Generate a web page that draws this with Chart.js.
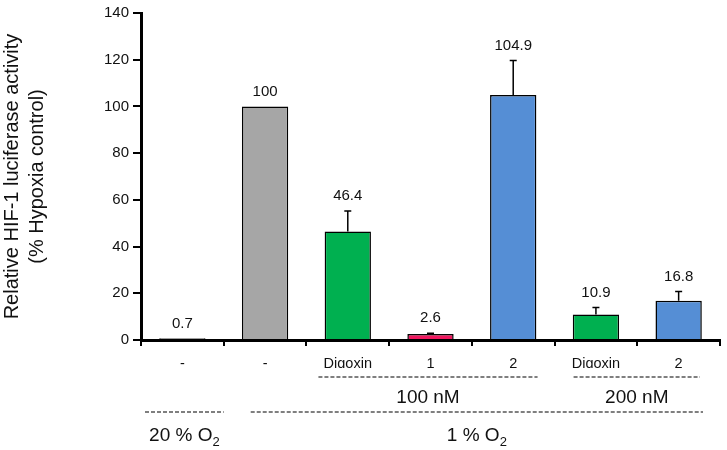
<!DOCTYPE html>
<html lang="en">
<head>
    <meta charset="UTF-8">
    <title>HIF-1 luciferase activity</title>
    <style>
        body { margin: 0; background: #fff; }
        #wrap { width: 727px; height: 450px; }
    </style>
</head>
<body>
    <div id="wrap"><canvas id="chart"></canvas></div>

    <script src="https://cdn.jsdelivr.net/npm/chart.js"></script>
    <script>
        // data
        const categories = ['-', '-', 'Digoxin', '1', '2', 'Digoxin', '2'];
        const values = [0.7, 100, 46.4, 2.6, 104.9, 10.9, 16.8];
        const errors = [0, 0, 8.8, 0.3, 14.8, 3.0, 4.0];
        const valueLabels = ['0.7', '100', '46.4', '2.6', '104.9', '10.9', '16.8'];
        const barColors = ['#a6a6a6', '#a6a6a6', '#00b050', '#f0185f', '#558ed5', '#00b050', '#558ed5'];
        const yTicks = [0, 20, 40, 60, 80, 100, 120, 140];

        // group rows under the axis: [first category, last category, text, subscript]
        const doseGroups = [[2, 4, '100 nM', ''], [5, 6, '200 nM', '']];
        const oxygenGroups = [[0, 0, '20 % O', '2'], [1, 6, '1 % O', '2']];

        const FONT = 'Arial, "Liberation Sans", sans-serif';

        // error bars + value labels
        const errorPlugin = {
            id: 'errorBars',
            afterDatasetsDraw(chart) {
                const ctx = chart.ctx;
                const x = chart.scales.x, y = chart.scales.y;
                ctx.save();
                ctx.strokeStyle = '#000';
                ctx.lineWidth = 1.5;
                values.forEach((v, i) => {
                    const cx = x.getPixelForValue(i);
                    const top = y.getPixelForValue(v + errors[i]);
                    if (errors[i] > 0) {
                        ctx.beginPath();
                        ctx.moveTo(cx, y.getPixelForValue(v));
                        ctx.lineTo(cx, top);
                        ctx.moveTo(cx - 3.5, top);
                        ctx.lineTo(cx + 3.5, top);
                        ctx.stroke();
                    }
                    ctx.fillStyle = '#111';
                    ctx.font = '15px ' + FONT;
                    ctx.textAlign = 'center';
                    ctx.textBaseline = 'middle';
                    ctx.fillText(valueLabels[i], cx, top - 15);
                });
                ctx.restore();
            }
        };

        // dashed group lines and labels under the x axis
        const groupPlugin = {
            id: 'groups',
            afterDraw(chart) {
                const ctx = chart.ctx;
                const x = chart.scales.x;
                const half = (x.getPixelForValue(1) - x.getPixelForValue(0)) / 2;
                const base = chart.chartArea.bottom;

                function row(groups, lineY, textY, insetL, insetR) {
                    groups.forEach(g => {
                        const l = x.getPixelForValue(g[0]) - half + insetL;
                        const r = x.getPixelForValue(g[1]) + half - insetR;
                        ctx.save();
                        ctx.strokeStyle = '#000';
                        ctx.lineWidth = 1.2;
                        ctx.setLineDash([4, 2]);
                        ctx.beginPath();
                        ctx.moveTo(l, lineY);
                        ctx.lineTo(r, lineY);
                        ctx.stroke();
                        ctx.restore();

                        ctx.save();
                        ctx.fillStyle = '#111';
                        ctx.textBaseline = 'middle';
                        ctx.font = '19px ' + FONT;
                        const mainW = ctx.measureText(g[2]).width;
                        ctx.font = '13px ' + FONT;
                        const subW = g[3] ? ctx.measureText(g[3]).width : 0;
                        const cx = (l + r) / 2;
                        const sx = cx - (mainW + subW) / 2;
                        ctx.textAlign = 'left';
                        ctx.font = '19px ' + FONT;
                        ctx.fillText(g[2], sx, textY);
                        if (g[3]) {
                            ctx.font = '13px ' + FONT;
                            ctx.fillText(g[3], sx + mainW, textY + 6);
                        }
                        ctx.restore();
                    });
                }

                row(doseGroups.slice(0, 1), base + 37, base + 58, 12, 17);
                row(doseGroups.slice(1), base + 37, base + 58, 19, 20);
                row(oxygenGroups.slice(0, 1), base + 72, base + 96, 4, 0);
                row(oxygenGroups.slice(1), base + 72, base + 96, 27, 17);
            }
        };

        const ctx = document.getElementById('chart').getContext('2d');
        new Chart(ctx, {
            type: 'bar',
            data: {
                labels: categories,
                datasets: [{
                    data: values,
                    backgroundColor: barColors,
                    borderColor: '#000',
                    borderWidth: 1.5,
                    borderSkipped: 'bottom',
                    barPercentage: 0.56,
                    categoryPercentage: 1.0
                }]
            },
            options: {
                responsive: true,
                maintainAspectRatio: false,
                animation: false,
                layout: { padding: { top: 11, right: 7, bottom: 82, left: 0 } },
                plugins: {
                    legend: { display: false },
                    tooltip: { enabled: false }
                },
                scales: {
                    x: {
                        afterFit(scale) { scale.height = 28; },
                        grid: {
                            offset: true,
                            drawOnChartArea: false,
                            drawTicks: true,
                            tickLength: 6,
                            color: '#000',
                            lineWidth: 2
                        },
                        border: { display: true, color: '#000', width: 3 },
                        ticks: {
                            color: '#111',
                            padding: 9,
                            font: { family: FONT, size: 14.5 },
                            maxRotation: 0,
                            autoSkip: false
                        }
                    },
                    y: {
                        min: 0,
                        max: 140,
                        afterFit(scale) { scale.width = 141; },
                        afterBuildTicks(scale) { scale.ticks = yTicks.map(v => ({ value: v })); },
                        grid: {
                            drawOnChartArea: false,
                            tickLength: 8,
                            color: '#000',
                            lineWidth: 2
                        },
                        border: { display: true, color: '#000', width: 3 },
                        ticks: {
                            color: '#111',
                            padding: 4,
                            font: { family: FONT, size: 15 }
                        },
                        title: {
                            display: true,
                            text: ['Relative HIF-1 luciferase activity', '(% Hypoxia control)'],
                            color: '#111',
                            font: { family: FONT, size: 20, lineHeight: 1.25 },
                            padding: { top: 0, bottom: 0 }
                        }
                    }
                }
            },
            plugins: [errorPlugin, groupPlugin]
        });
    </script>
</body>
</html>
